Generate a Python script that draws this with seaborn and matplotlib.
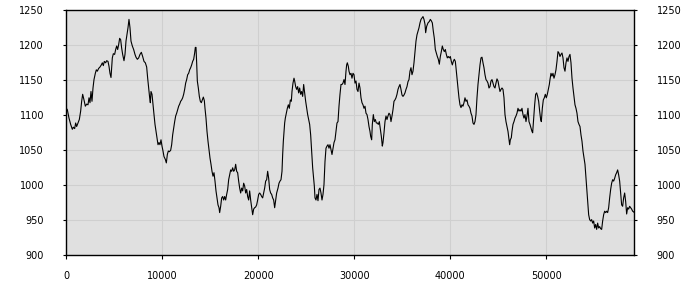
import matplotlib
matplotlib.use("Agg")
import matplotlib.pyplot as plt
import seaborn as sns
import pandas as pd

# ---- data (x in sample units, y in value units) ----
x_part1 = [0, 107, 281, 454, 628, 732, 871, 975, 1079, 1218, 1357, 1496, 1600, 1704, 1843,
           1982, 2121, 2260, 2364, 2468, 2572, 2676, 2781, 2885, 3024, 3128, 3232, 3371, 3510,
           3649, 3753, 3857, 3961, 4100, 4204, 4343, 4447, 4551, 4656, 4794, 4899, 5037, 5142,
           5246, 5350, 5454, 5558, 5662, 5767, 5871, 6010, 6114, 6218, 6322, 6426, 6530, 6635,
           6739, 6878, 7016, 7155]
y_part1 = [1110, 1108, 1096, 1087, 1080, 1083, 1081, 1089, 1084, 1089, 1094, 1106, 1120, 1130, 1122,
           1113, 1116, 1115, 1125, 1118, 1134, 1120, 1139, 1151, 1160, 1165, 1163, 1167, 1169,
           1172, 1175, 1171, 1177, 1175, 1178, 1177, 1170, 1160, 1154, 1182, 1188, 1187, 1194,
           1199, 1194, 1201, 1210, 1208, 1196, 1187, 1178, 1187, 1206, 1215, 1225, 1237, 1225,
           1206, 1199, 1194, 1187]

x_part2 = [7261, 7400, 7539, 7678, 7817, 7955, 8094, 8233, 8372, 8476, 8580, 8685, 8754, 8823,
           8928, 9032, 9136, 9240, 9344, 9448, 9553, 9657, 9761, 9865, 9969, 10073, 10177, 10316,
           10421, 10525, 10629, 10733, 10872, 10976, 11080, 11184, 11289, 11393, 11497, 11601,
           11705, 11809, 11913, 12018, 12122, 12226, 12330, 12434, 12538, 12643, 12747, 12851,
           12955, 13059, 13163, 13268, 13372, 13441, 13511, 13580, 13649, 13754, 13858, 13962,
           14066, 14170, 14275, 14379, 14448, 14552]
y_part2 = [1183, 1180, 1182, 1187, 1190, 1184, 1177, 1175, 1169, 1153, 1139, 1125, 1118, 1134,
           1130, 1115, 1101, 1087, 1077, 1068, 1058, 1061, 1058, 1065, 1056, 1049, 1041, 1037,
           1032, 1044, 1049, 1048, 1050, 1058, 1072, 1082, 1091, 1099, 1103, 1108,
           1113, 1116, 1120, 1122, 1125, 1130, 1137, 1146, 1151, 1158, 1160, 1165,
           1168, 1172, 1177, 1180, 1189, 1197, 1197, 1175, 1149, 1139, 1127, 1120,
           1118, 1122, 1126, 1121, 1110, 1096]

x_part3 = [14657, 14761, 14865, 14969, 15074, 15178, 15282, 15386, 15490, 15594, 15699, 15803,
           15907, 15976, 16081, 16185, 16289, 16393, 16497, 16601, 16705, 16810, 16914, 17018,
           17122, 17226, 17330, 17435, 17539, 17643, 17747, 17851, 17955, 18060, 18164, 18268,
           18372, 18476, 18580, 18685, 18789, 18893, 18997, 19101, 19205, 19309, 19414, 19518,
           19622, 19726, 19830, 19934, 20039, 20143, 20247, 20351, 20455, 20559, 20663, 20768,
           20872, 20976, 21080, 21184, 21288, 21393, 21497, 21601, 21705, 21809, 21913]
y_part3 = [1077, 1063, 1051, 1039, 1030, 1020, 1013, 1018, 1006, 992, 982, 972,
           968, 961, 970, 982, 984, 979, 984, 979, 987, 994, 1008, 1015,
           1022, 1020, 1025, 1020, 1022, 1030, 1020, 1018, 1006, 996, 989, 996,
           992, 1003, 999, 989, 994, 984, 979, 992, 979, 968, 958, 966,
           968, 969, 972, 979, 987, 989, 987, 984, 982, 989, 996, 1006,
           1008, 1020, 1010, 994, 989, 987, 982, 979, 968, 979, 989]

x_part4 = [22053, 22157, 22261, 22365, 22470, 22539, 22609, 22678, 22747, 22817, 22921, 23025,
           23129, 23233, 23338, 23442, 23511, 23615, 23720, 23789, 23893, 23997, 24101, 24206,
           24310, 24414, 24518, 24622, 24726, 24831, 24935, 25039, 25143, 25247, 25351, 25456,
           25560, 25664, 25768, 25837, 25907, 26011, 26115, 26219, 26324, 26428, 26532, 26636,
           26740, 26844, 26949, 27053, 27157, 27261, 27365, 27469, 27573, 27678, 27782, 27886,
           27990, 28094, 28198, 28303, 28407, 28511, 28615, 28719, 28823, 28928, 29032, 29136,
           29205, 29275, 29379]
y_part4 = [996, 1003, 1006, 1008, 1020, 1044, 1063, 1077, 1089, 1096, 1103, 1110,
           1115, 1110, 1122, 1120, 1134, 1146, 1153, 1149, 1141, 1137, 1141, 1132,
           1139, 1130, 1134, 1127, 1144, 1132, 1120, 1110, 1101, 1094, 1087, 1072,
           1049, 1025, 1010, 999, 982, 979, 987, 978, 994, 996, 989, 979,
           987, 1001, 1034, 1053, 1056, 1058, 1053, 1058, 1051, 1044, 1053, 1061,
           1065, 1077, 1089, 1091, 1113, 1130, 1144, 1144, 1146, 1151, 1144, 1163,
           1172, 1175, 1170]

x_part5 = [29449, 29553, 29657, 29761, 29866, 29970, 30074, 30178, 30282, 30386, 30491, 30595,
           30699, 30803, 30907, 31011, 31116, 31220, 31324, 31428, 31532, 31636, 31706, 31810,
           31879, 31984, 32088, 32192, 32296, 32400, 32504, 32609, 32713, 32817, 32921, 32990,
           33095, 33199, 33303, 33407, 33511, 33615, 33720, 33824, 33928, 34032, 34136, 34240,
           34345, 34449, 34553, 34657, 34761, 34865, 34970, 35074, 35178, 35282, 35386, 35490,
           35594, 35699, 35803, 35907, 36011, 36115, 36219, 36324, 36428, 36532, 36636, 36740]
y_part5 = [1163, 1158, 1160, 1153, 1160, 1158, 1146, 1149, 1137, 1134, 1146, 1139,
           1125, 1118, 1115, 1110, 1113, 1103, 1101, 1094, 1084, 1077, 1070, 1065,
           1087, 1101, 1091, 1094, 1089, 1089, 1087, 1091, 1080, 1070, 1056, 1061,
           1075, 1091, 1099, 1094, 1099, 1103, 1101, 1091, 1099, 1108, 1120, 1122,
           1125, 1130, 1137, 1141, 1144, 1137, 1129, 1127, 1129, 1132, 1137, 1141,
           1148, 1151, 1163, 1168, 1158, 1163, 1175, 1191, 1206, 1215, 1220, 1225]

x_part6 = [36845, 36949, 37053, 37157, 37262, 37366, 37435, 37539, 37678, 37817, 37921, 38025,
           38130, 38234, 38338, 38442, 38546, 38650, 38755, 38859, 38963, 39067, 39171, 39275,
           39379, 39484, 39588, 39692, 39796, 39900, 40004, 40109, 40213, 40317, 40421, 40525,
           40595, 40699, 40803, 40907, 41011, 41116, 41220, 41324, 41428, 41532, 41636, 41741,
           41845, 41949, 42053, 42157, 42261, 42365, 42470, 42574, 42678, 42782, 42886, 42990,
           43095, 43199, 43303, 43407, 43511, 43615, 43720, 43824, 43928, 44032, 44136]
y_part6 = [1232, 1237, 1239, 1241, 1237, 1230, 1218, 1227, 1232, 1234, 1237, 1235,
           1232, 1220, 1210, 1194, 1189, 1184, 1180, 1173, 1184, 1191, 1199, 1194,
           1191, 1194, 1187, 1182, 1184, 1182, 1184, 1177, 1172, 1177, 1180, 1177,
           1168, 1153, 1139, 1125, 1115, 1111, 1115, 1113, 1118, 1125, 1120, 1122,
           1115, 1113, 1110, 1103, 1099, 1089, 1087, 1091, 1101, 1125, 1144, 1158,
           1172, 1182, 1183, 1175, 1168, 1158, 1151, 1149, 1146, 1139, 1141]

x_part7 = [44241, 44345, 44449, 44553, 44658, 44762, 44866, 44970, 45074, 45178, 45283, 45387,
           45491, 45595, 45699, 45803, 45908, 46012, 46116, 46185, 46255, 46359, 46428, 46532,
           46637, 46741, 46845, 46949, 47053, 47157, 47262, 47366, 47470, 47574, 47678, 47782,
           47887, 47991, 48095, 48199, 48303, 48407, 48511, 48581, 48685, 48789, 48894, 48998,
           49102, 49206, 49310, 49414, 49484, 49588, 49692, 49796, 49900, 50004, 50109, 50213,
           50317, 50386, 50491, 50595, 50699, 50803, 50907, 51011, 51116, 51220, 51324, 51428,
           51532]
y_part7 = [1149, 1151, 1146, 1141, 1139, 1146, 1152, 1149, 1141, 1134, 1137, 1139,
           1137, 1125, 1101, 1091, 1084, 1077, 1065, 1058, 1065, 1068, 1077, 1087,
           1091, 1096, 1099, 1103, 1110, 1106, 1108, 1106, 1110, 1101, 1096, 1101,
           1091, 1099, 1110, 1091, 1087, 1082, 1077, 1075, 1096, 1115, 1130, 1132,
           1127, 1120, 1106, 1094, 1091, 1110, 1122, 1125, 1130, 1125, 1130, 1137,
           1144, 1151, 1160, 1156, 1160, 1153, 1158, 1165, 1177, 1191, 1189, 1184,
           1187]

x_part8 = [51637, 51741, 51845, 51949, 52054, 52158, 52262, 52366, 52470, 52574, 52679, 52783,
           52887, 52991, 53095, 53199, 53304, 53408, 53512, 53616, 53720, 53824, 53929, 54033,
           54137, 54206, 54276, 54345, 54415, 54519, 54623, 54727, 54831, 54935, 55040, 55144,
           55248, 55352, 55456, 55560, 55665, 55769, 55873, 55977, 56081, 56185, 56290, 56394,
           56498, 56602, 56706, 56810, 56915, 57019, 57123, 57227, 57331, 57435, 57540, 57644,
           57748, 57852, 57956, 58060, 58165, 58269, 58373, 58477, 58581, 58685, 58790, 58894,
           58998, 59102, 59170]
y_part8 = [1189, 1182, 1168, 1163, 1175, 1182, 1177, 1184, 1187, 1175, 1153, 1139,
           1127, 1115, 1110, 1103, 1091, 1087, 1084, 1072, 1063, 1049, 1039, 1030,
           1010, 996, 982, 968, 958, 951, 949, 951, 946, 949, 939, 944,
           937, 946, 939, 941, 938, 937, 949, 958, 963, 961, 963, 961,
           968, 982, 994, 1003, 1008, 1006, 1010, 1015, 1018, 1022, 1015, 1006,
           989, 972, 970, 982, 989, 977, 959, 968, 966, 970, 968, 966,
           963, 962, 961]

x_ticks = [0, 10000, 20000, 30000, 40000, 50000]
y_ticks = [900, 950, 1000, 1050, 1100, 1150, 1200, 1250]
x_max = 59170

xs = x_part1 + x_part2 + x_part3 + x_part4 + x_part5 + x_part6 + x_part7 + x_part8
ys = y_part1 + y_part2 + y_part3 + y_part4 + y_part5 + y_part6 + y_part7 + y_part8
df = pd.DataFrame({"x": xs, "y": ys})

sns.set_style("whitegrid")
plt.rcParams["font.family"] = ["DejaVu Sans"]

fig = plt.figure(figsize=(7, 3), dpi=100)
ax = fig.add_axes([66.3 / 700, 1 - 255.3 / 300, (634.3 - 66.3) / 700, (255.3 - 10.3) / 300])
ax.set_facecolor("#e0e0e0")

sns.lineplot(data=df, x="x", y="y", ax=ax, color="black", linewidth=0.8, sort=False)

ax.set_xlim(0, x_max)
ax.set_ylim(900, 1250)
ax.set_xticks(x_ticks)
ax.set_yticks(y_ticks)
ax.set_xlabel("")
ax.set_ylabel("")
ax.grid(True, color="#cfcfcf", linewidth=0.8)
ax.set_axisbelow(True)

for side in ["left", "right", "top", "bottom"]:
    ax.spines[side].set_visible(True)
    ax.spines[side].set_color("black")
    ax.spines[side].set_linewidth(1.0)

ax.tick_params(axis="y", which="both", left=True, right=True, labelleft=True, labelright=True,
               length=2.5, width=0.8, color="black", pad=13.5, labelsize=7, labelcolor="black")
ax.tick_params(axis="x", bottom=True, length=3, width=0.8, color="black", pad=8,
               labelsize=7, labelcolor="black")

fig.savefig("out.png", dpi=100, facecolor="white")
